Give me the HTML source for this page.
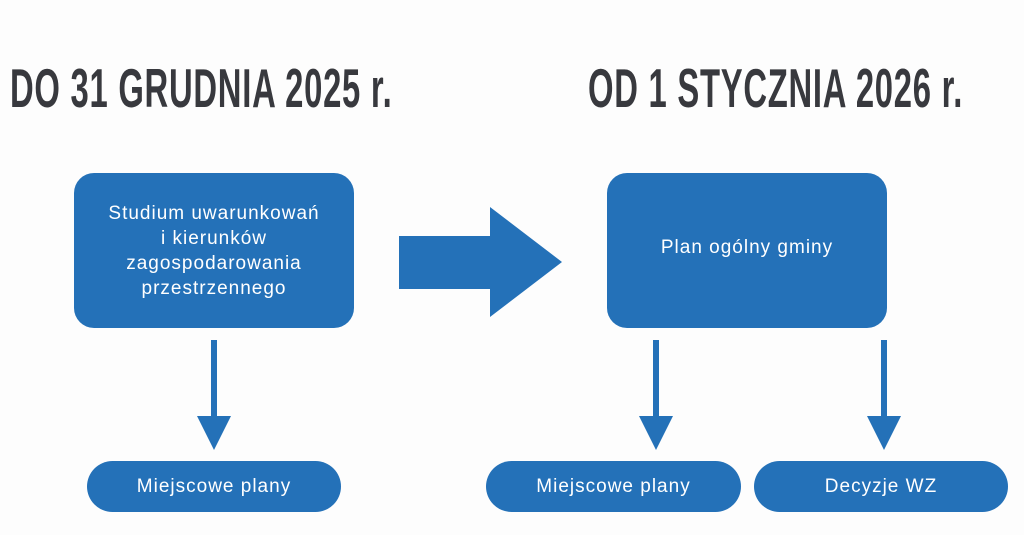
<!DOCTYPE html>
<html><head><style>
body{margin:0;width:1024px;height:535px;background:#fdfdfd;position:relative;overflow:hidden;font-family:"Liberation Sans",sans-serif}
.h{position:absolute;top:58px;font-family:"Liberation Sans Narrow","Liberation Sans",sans-serif;font-weight:bold;font-size:44px;color:#38393e;white-space:nowrap;transform-origin:left top;transform:scaleX(.745) scaleY(1.25);letter-spacing:1px}
.b{position:absolute;background:#2471b8;color:#fff;display:flex;align-items:center;justify-content:center;text-align:center;font-size:19px;letter-spacing:1px;line-height:25px}
</style></head><body>
<div class="h" style="left:10px">DO 31 GRUDNIA 2025 r.</div>
<div class="h" style="left:588px">OD 1 STYCZNIA 2026 r.</div>
<div class="b" style="left:74px;top:173px;width:280px;height:155px;border-radius:20px">Studium uwarunkowań<br>i kierunków<br>zagospodarowania<br>przestrzennego</div>
<div class="b" style="left:607px;top:173px;width:280px;height:155px;border-radius:20px;padding-bottom:6px;box-sizing:border-box">Plan ogólny gminy</div>
<div class="b" style="left:87px;top:461px;width:254px;height:51px;border-radius:26px">Miejscowe plany</div>
<div class="b" style="left:486px;top:461px;width:255px;height:51px;border-radius:26px">Miejscowe plany</div>
<div class="b" style="left:754px;top:461px;width:254px;height:51px;border-radius:26px">Decyzje WZ</div>
<svg width="1024" height="535" style="position:absolute;left:0;top:0">
<g fill="#2471b8">
<polygon points="399,236 490,236 490,207 562,262 490,317 490,289 399,289"/>
<rect x="211" y="340" width="6" height="78"/><polygon points="197,416 231,416 214,450"/>
<rect x="653" y="340" width="6" height="78"/><polygon points="639,416 673,416 656,450"/>
<rect x="881" y="340" width="6" height="78"/><polygon points="867,416 901,416 884,450"/>
</g></svg>
</body></html>
